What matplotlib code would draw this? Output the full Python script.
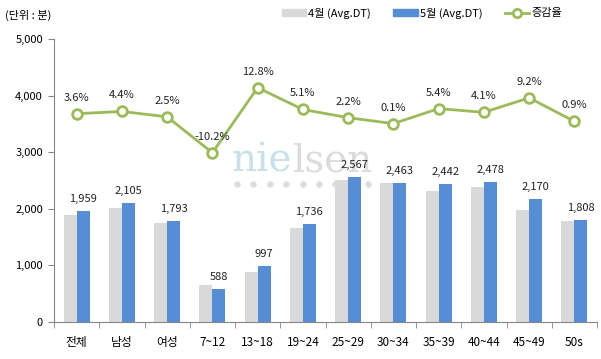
import matplotlib.pyplot as plt
import numpy as np
from matplotlib.lines import Line2D
from matplotlib.patches import Patch
from matplotlib.text import Annotation

plt.rcParams["font.family"] = ["Noto Sans CJK KR", "DejaVu Sans"]

CATEGORIES = ["전체", "남성", "여성", "7~12", "13~18", "19~24", "25~29",
              "30~34", "35~39", "40~44", "45~49", "50s"]
APRIL = [1891, 2016, 1749, 655, 884, 1652, 2512, 2461, 2317, 2380, 1987, 1792]
MAY = [1959, 2105, 1793, 588, 997, 1736, 2567, 2463, 2442, 2478, 2170, 1808]
RATE = [3.6, 4.4, 2.5, -10.2, 12.8, 5.1, 2.2, 0.1, 5.4, 4.1, 9.2, 0.9]

C_APR = "#d9d9d9"
C_MAY = "#558ed5"
C_RATE = "#9bbb59"
C_AXIS = "#868686"

fig = plt.figure(figsize=(6.01, 3.59), dpi=100)

# watermark, drawn behind the axes
nie = fig.text(232 / 601, 1 - 180 / 359, "nie", fontsize=28,
               family="DejaVu Serif", color="#c8e0ea", va="bottom", zorder=-1)
fig.add_artist(Annotation("lsen", xy=(1, 0), xycoords=nie, va="bottom",
                          fontsize=28, family="DejaVu Serif", color="#dcdcdc",
                          zorder=-1))
dot_x = np.linspace(237, 368, 9) / 601
fig.add_artist(Line2D(dot_x, [1 - 184 / 359] * len(dot_x), ls="none",
                      marker="o", ms=3.6, color="#dcdcdc", zorder=-1))

ax = fig.add_axes([54 / 601, 1 - 322 / 359, 543 / 601, 283 / 359])
ax.set_facecolor("none")

x = np.arange(len(CATEGORIES))
w = 0.29
ax.bar(x - w / 2, APRIL, width=w, color=C_APR, zorder=2)
ax.bar(x + w / 2, MAY, width=w, color=C_MAY, zorder=2)
for xi, v in zip(x, MAY):
    ax.annotate(f"{v:,}", xy=(xi + w / 2, v), xytext=(0, 5),
                textcoords="offset points", ha="center", va="bottom",
                fontsize=8, color="#222")

ax.set_xlim(-0.5, len(CATEGORIES) - 0.5)
ax.set_ylim(0, 5000)
ax.set_yticks(np.arange(0, 5001, 1000))
ax.set_yticklabels([f"{v:,}" for v in range(0, 5001, 1000)], fontsize=8)
ax.set_xticks(x)
ax.set_xticklabels(CATEGORIES, fontsize=8.5)
ax.set_xticks(np.arange(-0.5, len(CATEGORIES)), minor=True)
ax.tick_params(axis="x", which="major", length=0, pad=10)
ax.tick_params(axis="x", which="minor", length=4, color=C_AXIS)
ax.tick_params(axis="y", length=4, color=C_AXIS, pad=4)
for s in ["top", "right"]:
    ax.spines[s].set_visible(False)
for s in ["left", "bottom"]:
    ax.spines[s].set_color(C_AXIS)

# growth rate on a hidden secondary axis
ax2 = ax.twinx()
ax2.set_ylim(-70, 30)
ax2.plot(x, RATE, color=C_RATE, lw=2, marker="o", ms=7,
         mfc="white", mec=C_RATE, mew=2, zorder=3)
for xi, r in zip(x, RATE):
    ax2.annotate(f"{r:.1f}%", xy=(xi, r), xytext=(0, 8),
                 textcoords="offset points", ha="center", va="bottom",
                 fontsize=8, color="#222")
ax2.axis("off")

fig.text(5 / 601, 1 - 15 / 359, "(단위 : 분)", fontsize=8, va="center")

handles = [
    Patch(color=C_APR, label="4월 (Avg.DT)"),
    Patch(color=C_MAY, label="5월 (Avg.DT)"),
    Line2D([], [], color=C_RATE, lw=2, marker="o", ms=6, mfc="white",
           mec=C_RATE, mew=2, label="증감율"),
]
fig.legend(handles=handles, loc="center", bbox_to_anchor=(0.702, 1 - 13 / 359),
           ncol=3, frameon=False, fontsize=8, handlelength=2.2,
           handletextpad=0.2, columnspacing=2.0)

fig.savefig("out.png", dpi=100)
